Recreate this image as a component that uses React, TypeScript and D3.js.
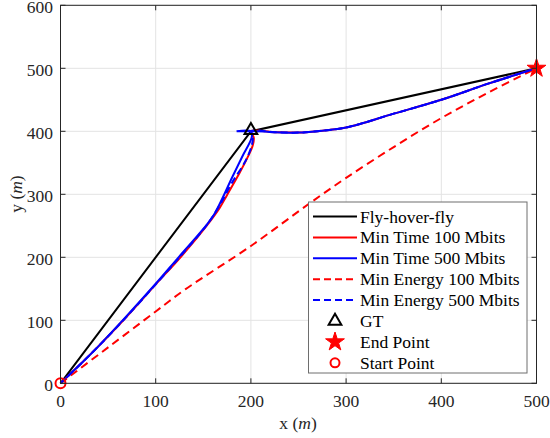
import React from "react";
import * as d3 from "d3";

const xTicks = [0, 100, 200, 300, 400, 500];
const yTicks = [0, 100, 200, 300, 400, 500, 600];

const flyX = [0, 200, 500];
const flyY = [0, 400, 500];

// shared section GT -> End
const upX = [225, 250, 275, 300, 350, 400, 450, 500];
const upY = [398.6, 398, 401, 406, 428, 450, 476, 500];

const mt100X = [0, 20, 40, 66, 100, 126, 154, 167, 175, 187, 196, 202, 203, 200];
const mt100Y = [0, 29, 59, 100, 157, 200, 251, 278, 299, 331, 357, 378, 390, 400];

const mt500X = [0, 20, 40, 66, 100, 124, 150, 161, 181, 191, 201, 200, 185, 200, 215];
const mt500Y = [0, 29, 59, 101, 158, 200, 245, 267, 329, 360, 391, 400, 400, 400, 399.5];

const me100X = [0, 50, 100, 131, 200, 262, 300, 350, 400, 450, 500];
const me100Y = [0, 57, 114, 149, 218, 286, 326, 375, 421, 462, 500];

const me500X = [0, 20, 40, 66, 100, 125, 152, 167, 180, 194, 201, 202, 200];
const me500Y = [0, 29, 59, 100, 157, 200, 248, 282, 318, 352, 378, 392, 400];

const legendLabels = [
  "Fly-hover-fly",
  "Min Time 100 Mbits",
  "Min Time 500 Mbits",
  "Min Energy 100 Mbits",
  "Min Energy 500 Mbits",
  "GT",
  "End Point",
  "Start Point",
];

const FONT = "'Liberation Serif', 'Times New Roman', serif";

export default function App() {
  const W = 550, H = 438;
  const x = d3.scaleLinear().domain([0, 500]).range([60.5, 536.5]);
  const y = d3.scaleLinear().domain([0, 600]).range([383.3, 5.3]);
  const zip = (xs: number[], ys: number[]) => xs.map((v, i) => [v, ys[i]] as [number, number]);
  const smooth = d3.line<[number, number]>().x(d => x(d[0])).y(d => y(d[1])).curve(d3.curveCatmullRom.alpha(0.5));
  const straight = d3.line<[number, number]>().x(d => x(d[0])).y(d => y(d[1]));
  const withUp = (xs: number[], ys: number[]) => [...zip(xs, ys), ...zip(upX, upY)];

  const x0 = x.range()[0], x1 = x.range()[1], y0 = y.range()[0], y1 = y.range()[1];
  const axisColor = "#262626";
  const tick = 5;

  const tri = d3.symbol().type(d3.symbolTriangle).size(70)();
  const star = d3.symbol().type(d3.symbolStar).size(110)();

  const lgX = 308.5, lgY = 202, lgW = 218.5, lgH = 171;
  const rowY = (i: number) => 216.5 + i * 20.9;

  return (
    <svg width={W} height={H} style={{ position: "absolute", left: 0, top: 0, background: "#fff" }} fontFamily={FONT}>
      <rect x={0} y={0} width={W} height={H} fill="#fff" />
      {/* grid */}
      {xTicks.map(t => (
        <line key={"gx" + t} x1={x(t)} x2={x(t)} y1={y0} y2={y1} stroke="#e3e3e3" strokeWidth={1} />
      ))}
      {yTicks.map(t => (
        <line key={"gy" + t} x1={x0} x2={x1} y1={y(t)} y2={y(t)} stroke="#e3e3e3" strokeWidth={1} />
      ))}
      {/* data */}
      <path d={straight(zip(flyX, flyY)) || ""} fill="none" stroke="#000" strokeWidth={2} />
      <path d={smooth(withUp(mt100X, mt100Y)) || ""} fill="none" stroke="#ff0000" strokeWidth={2} />
      <path d={smooth(withUp(mt500X, mt500Y)) || ""} fill="none" stroke="#0000ff" strokeWidth={2} />
      <path d={smooth(zip(me100X, me100Y)) || ""} fill="none" stroke="#ff0000" strokeWidth={2} strokeDasharray="8,5" />
      <path d={smooth(withUp(me500X, me500Y)) || ""} fill="none" stroke="#0000ff" strokeWidth={2} strokeDasharray="7,4" />
      {/* markers */}
      <path d={tri || ""} transform={`translate(${x(200)},${y(400) - 1})`} fill="none" stroke="#000" strokeWidth={2} />
      <path d={star || ""} transform={`translate(${x(500)},${y(500)})`} fill="#ff0000" stroke="#ff0000" strokeWidth={1} />
      <circle cx={x(0)} cy={y(0)} r={5} fill="none" stroke="#ff0000" strokeWidth={2} />
      {/* axes box */}
      <rect x={x0} y={y1} width={x1 - x0} height={y0 - y1} fill="none" stroke={axisColor} strokeWidth={1} />
      {xTicks.map(t => (
        <g key={"tx" + t}>
          <line x1={x(t)} x2={x(t)} y1={y0} y2={y0 - tick} stroke={axisColor} />
          <line x1={x(t)} x2={x(t)} y1={y1} y2={y1 + tick} stroke={axisColor} />
          <text x={x(t)} y={407} textAnchor="middle" fontSize={17.5} fill={axisColor}>{t}</text>
        </g>
      ))}
      {yTicks.map(t => (
        <g key={"ty" + t}>
          <line x1={x0} x2={x0 + tick} y1={y(t)} y2={y(t)} stroke={axisColor} />
          <line x1={x1} x2={x1 - tick} y1={y(t)} y2={y(t)} stroke={axisColor} />
          <text x={53} y={y(t) + 7.5} textAnchor="end" fontSize={17.5} fill={axisColor}>{t}</text>
        </g>
      ))}
      <text x={298} y={429} textAnchor="middle" fontSize={17.5} fill={axisColor}>
        x (<tspan fontStyle="italic">m</tspan>)
      </text>
      <text transform={`translate(22,194) rotate(-90)`} textAnchor="middle" fontSize={17.5} fill={axisColor}>
        y (<tspan fontStyle="italic">m</tspan>)
      </text>
      {/* legend */}
      <rect x={lgX} y={lgY} width={lgW} height={lgH} fill="#fff" stroke="#6e6e6e" strokeWidth={1} />
      {legendLabels.map((lab, i) => {
        const cy = rowY(i);
        let sample: React.ReactNode = null;
        if (i === 0) sample = <line x1={313} x2={357} y1={cy} y2={cy} stroke="#000" strokeWidth={2} />;
        if (i === 1) sample = <line x1={313} x2={357} y1={cy} y2={cy} stroke="#ff0000" strokeWidth={2} />;
        if (i === 2) sample = <line x1={313} x2={357} y1={cy} y2={cy} stroke="#0000ff" strokeWidth={2} />;
        if (i === 3) sample = <line x1={313} x2={357} y1={cy} y2={cy} stroke="#ff0000" strokeWidth={2} strokeDasharray="7,4" />;
        if (i === 4) sample = <line x1={313} x2={357} y1={cy} y2={cy} stroke="#0000ff" strokeWidth={2} strokeDasharray="7,4" />;
        if (i === 5) sample = <path d={tri || ""} transform={`translate(335,${cy})`} fill="none" stroke="#000" strokeWidth={2} />;
        if (i === 6) sample = <path d={star || ""} transform={`translate(335,${cy})`} fill="#ff0000" stroke="#ff0000" strokeWidth={1} />;
        if (i === 7) sample = <circle cx={335} cy={cy} r={4.5} fill="none" stroke="#ff0000" strokeWidth={2} />;
        return (
          <g key={lab}>
            {sample}
            <text x={360} y={cy + 6} fontSize={17.5} fill="#000">{lab}</text>
          </g>
        );
      })}
    </svg>
  );
}
